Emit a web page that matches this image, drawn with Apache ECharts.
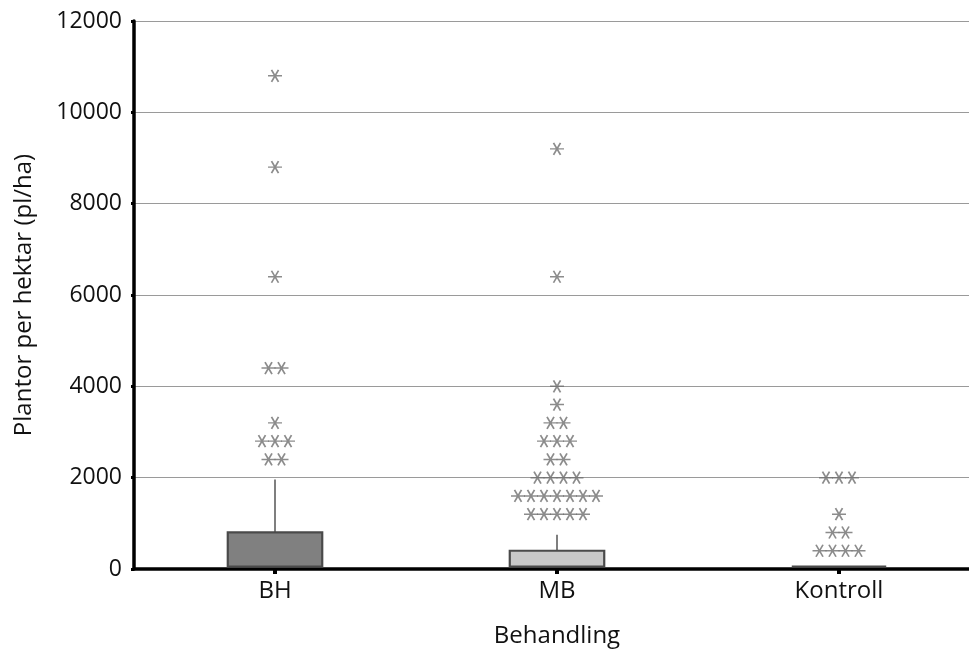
<!DOCTYPE html>
<html><head><meta charset="utf-8">
<script src="https://cdn.jsdelivr.net/npm/echarts@6/dist/echarts.min.js"></script>
<style>html,body{margin:0;padding:0;background:#fff;overflow:hidden}#c{width:980px;height:654px}</style>
</head><body><div id="c"></div>
<script>
var categories = ['BH', 'MB', 'Kontroll'];
var boxLow = [0, 0, 0];
var boxHigh = [800, 400, 0];
var whiskerHigh = [1960, 750, 0];
var outliersBH = [10800, 8800, 6400, 4400, 4400, 3200, 2800, 2800, 2800, 2400, 2400];
var outliersMB = [9200, 6400, 4000, 3600, 3200, 3200, 2800, 2800, 2800, 2400, 2400,
  2000, 2000, 2000, 2000, 1600, 1600, 1600, 1600, 1600, 1600, 1600, 1200, 1200, 1200, 1200, 1200];
var outliersKontroll = [2000, 2000, 2000, 1200, 800, 800, 400, 400, 400, 400];
var yTicks = [0, 2000, 4000, 6000, 8000, 10000, 12000];

var FONT = 'Open Sans';
var STEP = 13;

var boxData = categories.map(function (c, i) { return [i, boxLow[i], boxHigh[i], whiskerHigh[i]]; });

function buildOutliers(list, ci) {
  var counts = {};
  list.forEach(function (v) { counts[v] = (counts[v] || 0) + 1; });
  var seen = {};
  return list.map(function (v) {
    var n = counts[v];
    var k = seen[v] = (seen[v] === undefined ? 0 : seen[v] + 1);
    return { value: [ci, v], symbolOffset: [(k - (n - 1) / 2) * STEP, 0] };
  });
}
var outlierData = []
  .concat(buildOutliers(outliersBH, 0))
  .concat(buildOutliers(outliersMB, 1))
  .concat(buildOutliers(outliersKontroll, 2));

var boxFills = ['#808080', '#c8c8c8', '#c8c8c8'];

var chart = echarts.init(document.getElementById('c'), null, { renderer: 'canvas' });
chart.setOption({
  animation: false,
  backgroundColor: '#fff',
  grid: { left: 134, top: 21, bottom: 85, right: 0, containLabel: false },
  xAxis: {
    type: 'category',
    data: categories,
    name: 'Behandling',
    nameLocation: 'middle',
    nameGap: 55,
    nameTextStyle: { fontFamily: FONT, fontSize: 24, color: '#111' },
    axisLine: { show: true, lineStyle: { color: '#000', width: 3.5 } },
    axisTick: { show: true, alignWithLabel: true, length: 5, lineStyle: { color: '#000', width: 4 } },
    axisLabel: { fontFamily: FONT, fontSize: 24, color: '#111', margin: 10 },
    splitLine: { show: false }
  },
  yAxis: {
    type: 'value',
    min: 0, max: 12000, interval: 2000,
    name: 'Plantor per hektar (pl/ha)',
    nameLocation: 'middle',
    nameGap: 98,
    nameTextStyle: { fontFamily: FONT, fontSize: 24, color: '#111' },
    axisLine: { show: true, lineStyle: { color: '#000', width: 3.5 } },
    axisTick: { show: true, length: 3, lineStyle: { color: '#000', width: 3 } },
    axisLabel: { fontFamily: FONT, fontSize: 23, color: '#111', margin: 12,
      formatter: function (v) { return yTicks.indexOf(v) >= 0 ? String(v) : ''; } },
    splitLine: { show: true, lineStyle: { color: '#9a9a9a', width: 1.2 } }
  },
  series: [
    {
      type: 'custom',
      data: boxData,
      z: 3,
      renderItem: function (params, api) {
        var ci = api.value(0);
        var pLow = api.coord([ci, api.value(1)]);
        var pHigh = api.coord([ci, api.value(2)]);
        var pW = api.coord([ci, api.value(3)]);
        var w = api.size([1, 0])[0] * 0.335;
        var bottom = pLow[1] - 2.5;
        var top = Math.min(pHigh[1], bottom);
        var children = [];
        if (api.value(3) > api.value(2)) {
          children.push({ type: 'line', shape: { x1: pHigh[0], y1: pHigh[1], x2: pW[0], y2: pW[1] },
            style: { stroke: '#555', lineWidth: 1.5 } });
        }
        children.push({ type: 'rect',
          shape: { x: pLow[0] - w / 2, y: top, width: w, height: bottom - top },
          style: { fill: boxFills[params.dataIndex], stroke: '#4a4a4a', lineWidth: 2.2 } });
        return { type: 'group', children: children };
      }
    },
    {
      type: 'scatter',
      data: outlierData,
      z: 4,
      symbol: 'path://M0,6L14,6M3.5,0L10.5,12M3.5,12L10.5,0',
      symbolSize: [14, 12],
      itemStyle: { color: 'none', borderColor: '#6f6f6f', borderWidth: 1.6 }
    }
  ]
});
</script></body></html>
